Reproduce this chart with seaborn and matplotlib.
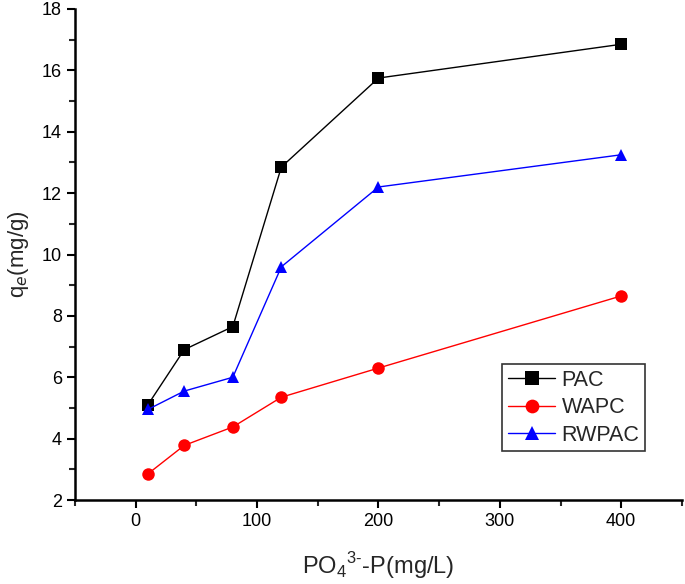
import matplotlib
matplotlib.use("Agg")
import matplotlib.pyplot as plt
from matplotlib.ticker import MultipleLocator
import pandas as pd
import seaborn as sns

conc = [10, 40, 80, 120, 200, 400]
pac = [5.1, 6.9, 7.65, 12.85, 15.75, 16.85]
wapc = [2.85, 3.78, 4.38, 5.35, 6.3, 8.65]
rwpac = [4.95, 5.55, 6.0, 9.6, 12.2, 13.25]
series_names = ["PAC", "WAPC", "RWPAC"]

df = pd.DataFrame({
    "conc": conc * 3,
    "qe": pac + wapc + rwpac,
    "sample": [s for s in series_names for _ in conc],
})

sns.set_style("ticks")
plt.rcParams['font.family'] = ['Liberation Sans', 'DejaVu Sans']
plt.rcParams['mathtext.fontset'] = 'custom'
plt.rcParams['mathtext.rm'] = 'Liberation Sans'

fig = plt.figure(figsize=(6.85, 5.84), dpi=100)
ax = fig.add_axes([0.1095, 0.1438, 0.886, 0.8408])

pal = {"PAC": "black", "WAPC": "red", "RWPAC": "blue"}
marks = {"PAC": "s", "WAPC": "o", "RWPAC": "^"}
sns.lineplot(data=df, x="conc", y="qe", hue="sample", style="sample",
             palette=pal, markers=marks, dashes=False, linewidth=1,
             markersize=9, markeredgewidth=0, ax=ax)

ax.set_xlim(-50, 450)
ax.set_ylim(2, 18)
ax.xaxis.set_major_locator(MultipleLocator(100))
ax.xaxis.set_minor_locator(MultipleLocator(50))
ax.yaxis.set_major_locator(MultipleLocator(2))
ax.yaxis.set_minor_locator(MultipleLocator(1))
ax.tick_params(which="major", direction="out", length=6, width=1.5, labelsize=13, colors="black")
ax.tick_params(which="minor", direction="out", length=4, width=1.5)
for s in ["left", "bottom"]:
    ax.spines[s].set_linewidth(1.8)
    ax.spines[s].set_color("black")
sns.despine(ax=ax)

ax.set_xlabel(r"PO$_4$$^{3\text{-}}$-P(mg/L)", fontsize=17, labelpad=14)
ax.set_ylabel(r"q$_e$(mg/g)", fontsize=16, labelpad=8)

leg = ax.legend(loc="lower right", bbox_to_anchor=(0.939, 0.1), borderaxespad=0,
                fontsize=15.5, frameon=True, fancybox=False, edgecolor="black",
                handlelength=2.2, handletextpad=0.3, borderpad=0.25,
                labelspacing=0.3, markerscale=1.1)
leg.get_frame().set_linewidth(1.2)

fig.savefig("out.png", dpi=100)
